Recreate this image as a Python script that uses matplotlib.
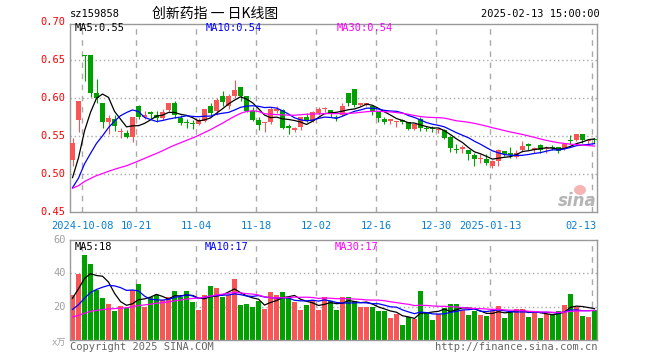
import numpy as np
import matplotlib.pyplot as plt
from matplotlib.transforms import blended_transform_factory
from matplotlib.patches import Ellipse

# daily bars, 2024-09-27 .. 2025-02-13
dates = [
    "2024-09-27", "2024-09-30",
    "2024-10-08", "2024-10-09", "2024-10-10", "2024-10-11", "2024-10-14", "2024-10-15",
    "2024-10-16", "2024-10-17", "2024-10-18", "2024-10-21", "2024-10-22", "2024-10-23",
    "2024-10-24", "2024-10-25", "2024-10-28", "2024-10-29", "2024-10-30", "2024-10-31",
    "2024-11-01", "2024-11-04", "2024-11-05", "2024-11-06", "2024-11-07", "2024-11-08",
    "2024-11-11", "2024-11-12", "2024-11-13", "2024-11-14", "2024-11-15", "2024-11-18",
    "2024-11-19", "2024-11-20", "2024-11-21", "2024-11-22", "2024-11-25", "2024-11-26",
    "2024-11-27", "2024-11-28", "2024-11-29",
    "2024-12-02", "2024-12-03", "2024-12-04", "2024-12-05", "2024-12-06", "2024-12-09",
    "2024-12-10", "2024-12-11", "2024-12-12", "2024-12-13", "2024-12-16", "2024-12-17",
    "2024-12-18", "2024-12-19", "2024-12-20", "2024-12-23", "2024-12-24", "2024-12-25",
    "2024-12-26", "2024-12-27", "2024-12-30", "2024-12-31",
    "2025-01-02", "2025-01-03", "2025-01-06", "2025-01-07", "2025-01-08", "2025-01-09",
    "2025-01-10", "2025-01-13", "2025-01-14", "2025-01-15", "2025-01-16", "2025-01-17",
    "2025-01-20", "2025-01-21", "2025-01-22", "2025-01-23", "2025-01-24", "2025-01-27",
    "2025-02-05", "2025-02-06", "2025-02-07", "2025-02-10", "2025-02-11", "2025-02-12",
    "2025-02-13",
]
opens = [
    0.518, 0.571,
    0.656, 0.657, 0.607, 0.594, 0.568, 0.573, 0.555, 0.554, 0.549, 0.589, 0.575, 0.581,
    0.578, 0.574, 0.584, 0.593, 0.574, 0.569,
    0.567, 0.566, 0.570, 0.589, 0.583, 0.603, 0.590, 0.603, 0.615, 0.602, 0.583, 0.571,
    0.567, 0.568, 0.583, 0.584, 0.563, 0.558, 0.562, 0.575, 0.570,
    0.580, 0.585, 0.584, 0.575, 0.578, 0.607, 0.612, 0.591, 0.591, 0.590, 0.582, 0.572,
    0.570, 0.568, 0.571, 0.568, 0.559, 0.573, 0.561, 0.560, 0.558, 0.558,
    0.549, 0.533, 0.533, 0.532, 0.525, 0.520, 0.520, 0.510, 0.517, 0.530, 0.528, 0.523,
    0.531, 0.539, 0.532, 0.538, 0.533, 0.535,
    0.536, 0.533, 0.545, 0.545, 0.552, 0.543, 0.546,
]
highs = [
    0.547, 0.596,
    0.657, 0.657, 0.625, 0.594, 0.577, 0.578, 0.560, 0.558, 0.575, 0.591, 0.583, 0.583,
    0.583, 0.585, 0.593, 0.596, 0.578, 0.572,
    0.571, 0.574, 0.586, 0.594, 0.600, 0.609, 0.605, 0.624, 0.615, 0.602, 0.588, 0.575,
    0.568, 0.588, 0.590, 0.585, 0.566, 0.562, 0.575, 0.580, 0.583,
    0.588, 0.588, 0.584, 0.577, 0.593, 0.607, 0.612, 0.594, 0.593, 0.590, 0.583, 0.575,
    0.572, 0.570, 0.573, 0.568, 0.566, 0.575, 0.563, 0.563, 0.561, 0.559,
    0.550, 0.539, 0.538, 0.532, 0.528, 0.526, 0.526, 0.519, 0.533, 0.530, 0.535, 0.531,
    0.543, 0.541, 0.535, 0.540, 0.537, 0.538,
    0.536, 0.541, 0.551, 0.552, 0.553, 0.546, 0.548,
]
lows = [
    0.510, 0.555,
    0.622, 0.601, 0.593, 0.560, 0.553, 0.557, 0.547, 0.547, 0.542, 0.573, 0.572, 0.572,
    0.568, 0.571, 0.582, 0.574, 0.564, 0.560,
    0.559, 0.564, 0.568, 0.578, 0.578, 0.590, 0.585, 0.600, 0.596, 0.581, 0.570, 0.558,
    0.555, 0.566, 0.580, 0.559, 0.553, 0.555, 0.558, 0.568, 0.568,
    0.578, 0.581, 0.575, 0.570, 0.576, 0.589, 0.588, 0.589, 0.589, 0.578, 0.569, 0.566,
    0.566, 0.562, 0.566, 0.558, 0.558, 0.557, 0.556, 0.555, 0.554, 0.546,
    0.529, 0.527, 0.528, 0.519, 0.511, 0.515, 0.512, 0.508, 0.510, 0.524, 0.521, 0.521,
    0.529, 0.531, 0.528, 0.528, 0.528, 0.531,
    0.528, 0.532, 0.539, 0.543, 0.541, 0.540, 0.541,
]
closes = [
    0.541, 0.596,
    0.655, 0.607, 0.600, 0.568, 0.574, 0.563, 0.556, 0.549, 0.575, 0.575, 0.578, 0.579,
    0.574, 0.581, 0.593, 0.578, 0.567, 0.567,
    0.566, 0.571, 0.585, 0.580, 0.598, 0.595, 0.603, 0.610, 0.602, 0.583, 0.571, 0.564,
    0.568, 0.585, 0.586, 0.560, 0.560, 0.561, 0.575, 0.570, 0.581,
    0.585, 0.586, 0.580, 0.574, 0.589, 0.594, 0.591, 0.593, 0.593, 0.581, 0.574, 0.568,
    0.572, 0.570, 0.568, 0.559, 0.566, 0.560, 0.559, 0.559, 0.559, 0.548,
    0.534, 0.531, 0.535, 0.526, 0.520, 0.521, 0.514, 0.517, 0.532, 0.526, 0.525, 0.528,
    0.537, 0.537, 0.534, 0.531, 0.534, 0.534,
    0.530, 0.540, 0.544, 0.552, 0.545, 0.545, 0.545,
]
# volume, unit 万
volumes = [
    27.3, 39.4,
    50.9, 45.5, 30.3, 25.3, 21.8, 17.2, 20.6, 19.2, 29.9, 33.9, 19.8, 25.9,
    27.3, 23.8, 25.9, 29.7, 25.9, 29.7,
    22.6, 18.2, 27.3, 32.3, 31.3, 25.9, 27.3, 36.4, 21.2, 21.8, 19.8, 23.2,
    18.8, 29.1, 27.3, 28.7, 25.9, 22.6, 17.8, 21.2, 24.2,
    17.8, 25.9, 23.2, 17.8, 25.7, 25.7, 23.2, 19.6, 19.6, 19.6, 17.2, 17.2,
    13.5, 15.8, 9.1, 13.7, 12.7, 29.3, 16.2, 12.1, 15.8, 19.2,
    21.8, 21.8, 17.8, 15.2, 17.2, 15.2, 14.5, 17.6, 20.6, 13.5, 17.2, 18.8,
    18.8, 14.1, 16.6, 13.5, 15.8, 15.8,
    17.2, 21.2, 27.9, 19.6, 14.5, 14.1, 18.2,
]
# sessions before the window, only feed the moving averages
prior_closes = [
    0.492, 0.490, 0.489, 0.487, 0.486, 0.485, 0.484, 0.483, 0.482, 0.481,
    0.480, 0.479, 0.478, 0.477, 0.476, 0.475, 0.474, 0.473, 0.472, 0.473,
    0.470, 0.468, 0.469, 0.468, 0.469, 0.465, 0.478, 0.485, 0.507,
]
prior_volumes = [
    12, 11, 13, 12, 11, 10, 12, 13, 11, 12,
    11, 10, 12, 11, 13, 12, 11, 12, 11, 12,
    11, 12, 11, 12, 12, 11, 20, 31, 36,
]

tick_dates = ["2024-10-08", "2024-10-21", "2024-11-04", "2024-11-18", "2024-12-02",
              "2024-12-16", "2024-12-30", "2025-01-13", "2025-02-13"]
tick_labels = ["2024-10-08", "10-21", "11-04", "11-18", "12-02", "12-16", "12-30",
               "2025-01-13", "02-13"]

price_ticks = [0.45, 0.50, 0.55, 0.60, 0.65, 0.70]
vol_ticks = [20, 40, 60]


def moving_avg(prior, values, n):
    arr = np.array(list(prior) + list(values), dtype=float)
    start = len(prior)
    return np.array([arr[i - n + 1:i + 1].mean() for i in range(start, len(arr))])


UP = "#f85656"
DOWN = "#00a000"
GRID = "#aaaaaa"
FRAME = "#999999"
BLUE_TXT = "#0a7fd2"
MONO = "DejaVu Sans Mono"
W, H = 660, 360


def fx(px):
    return px / W


def fy(py):
    return 1 - py / H


x = np.arange(len(dates))
o = np.array(opens)
c = np.array(closes)
colors = [UP if cc >= oo else DOWN for oo, cc in zip(o, c)]

fig = plt.figure(figsize=(6.6, 3.6), dpi=100)
fig.patch.set_facecolor("white")

ax = fig.add_axes([fx(70), fy(212), fx(597) - fx(70), fy(24) - fy(212)])
ax2 = fig.add_axes([fx(70), fy(340), fx(597) - fx(70), fy(240) - fy(340)])

xlim = (-0.42, len(dates) - 1 + 0.42)
tick_idx = [dates.index(d) for d in tick_dates]

for a in (ax, ax2):
    a.set_xlim(*xlim)
    a.set_xticks([])
    a.set_yticks([])
    for s in a.spines.values():
        s.set_color(FRAME)
        s.set_linewidth(1.0)
    for t in tick_idx:
        a.axvline(t - 0.4, color=GRID, lw=1, ls=(0, (4, 4)), zorder=0)

# price panel
ax.set_ylim(0.45, 0.6974)
for p in price_ticks[1:-1]:
    ax.axhline(p, color=GRID, lw=1, ls=(0, (1, 2)), zorder=0)

ax.vlines(x, lows, highs, colors=colors, lw=0.8, zorder=2)
body = np.maximum(np.abs(c - o), 0.0013)
ax.bar(x, body, bottom=np.minimum(o, c), width=0.8, color=colors, lw=0, zorder=3)

ma5 = moving_avg(prior_closes, closes, 5)
ma10 = moving_avg(prior_closes, closes, 10)
ma30 = moving_avg(prior_closes, closes, 30)
ax.plot(x, ma5, color="black", lw=0.9, zorder=4)
ax.plot(x, ma10, color="#0000ff", lw=0.9, zorder=4)
ax.plot(x, ma30, color="#ff00ff", lw=0.9, zorder=4)

tr = blended_transform_factory(ax.transAxes, ax.transData)
for p in price_ticks:
    ax.text(-0.008, p, f"{p:.2f}", transform=tr, ha="right", va="center",
            color="red", family=MONO, fontsize=7.5, clip_on=False)

for t, lab in zip(tick_idx, tick_labels):
    last = t == len(dates) - 1
    ax.text(t + 0.3 if last else t - 0.3, 0.45 - 0.0115, lab,
            ha="right" if last else "center", va="top", color=BLUE_TXT,
            family=MONO, fontsize=7.5, clip_on=False)

fig.text(fx(75), fy(28), f"MA5:{ma5[-1]:.2f}", color="black", family=MONO,
         fontsize=7.5, va="center")
fig.text(fx(206), fy(28), f"MA10:{ma10[-1]:.2f}", color="#0000ff", family=MONO,
         fontsize=7.5, va="center")
fig.text(fx(337), fy(28), f"MA30:{ma30[-1]:.2f}", color="#ff00ff", family=MONO,
         fontsize=7.5, va="center")

# sina watermark
fig.text(fx(597), fy(201), "sina", color="#b5b5b5", fontsize=12, fontweight="bold",
         style="italic", ha="right", va="center", family="DejaVu Sans")
fig.patches.append(Ellipse((fx(580), fy(190)), fx(12), 10 / H, transform=fig.transFigure,
                           facecolor="#f4a3a3", edgecolor="none", alpha=0.8))

# volume panel
ax2.set_ylim(0, 60)
for v in vol_ticks[:-1]:
    ax2.axhline(v, color=GRID, lw=1, ls=(0, (1, 2)), zorder=0)
ax2.bar(x, volumes, width=0.84, color=colors, lw=0, zorder=2)
vma5 = moving_avg(prior_volumes, volumes, 5)
vma10 = moving_avg(prior_volumes, volumes, 10)
vma30 = moving_avg(prior_volumes, volumes, 30)
ax2.plot(x, vma5, color="black", lw=0.9, zorder=4)
ax2.plot(x, vma10, color="#0000ff", lw=0.9, zorder=4)
ax2.plot(x, vma30, color="#ff00ff", lw=0.9, zorder=4)

tr2 = blended_transform_factory(ax2.transAxes, ax2.transData)
for v in vol_ticks:
    ax2.text(-0.008, v, str(v), transform=tr2, ha="right", va="center",
             color="#a0a0a0", family=MONO, fontsize=7.5, clip_on=False)
fig.text(fx(66), fy(343), "x万", color="#a0a0a0", family=[MONO, "Noto Sans CJK SC"],
         fontsize=6.5, ha="right", va="center")

fig.text(fx(75), fy(247), f"MA5:{int(vma5[-1])}", color="black", family=MONO,
         fontsize=7.5, va="center")
fig.text(fx(205), fy(247), f"MA10:{int(vma10[-1])}", color="#0000ff", family=MONO,
         fontsize=7.5, va="center")
fig.text(fx(335), fy(247), f"MA30:{int(vma30[-1])}", color="#ff00ff", family=MONO,
         fontsize=7.5, va="center")

# header and footer
fig.text(fx(70), fy(14), "sz159858", color="black", family=MONO, fontsize=7.5, va="center")
fig.text(fx(152), fy(14), "创新药指 一 日K线图", color="black",
         family=["Noto Sans CJK SC", "DejaVu Sans"], fontsize=10, va="center")
fig.text(fx(600), fy(14), "2025-02-13 15:00:00", color="black", family=MONO,
         fontsize=7.5, ha="right", va="center")
fig.text(fx(70), fy(347), "Copyright 2025 SINA.COM", color="#666666", family=MONO,
         fontsize=7.5, va="center")
fig.text(fx(597), fy(347), "http://finance.sina.com.cn", color="#666666", family=MONO,
         fontsize=7.5, ha="right", va="center")

fig.savefig("out.png", dpi=100)
